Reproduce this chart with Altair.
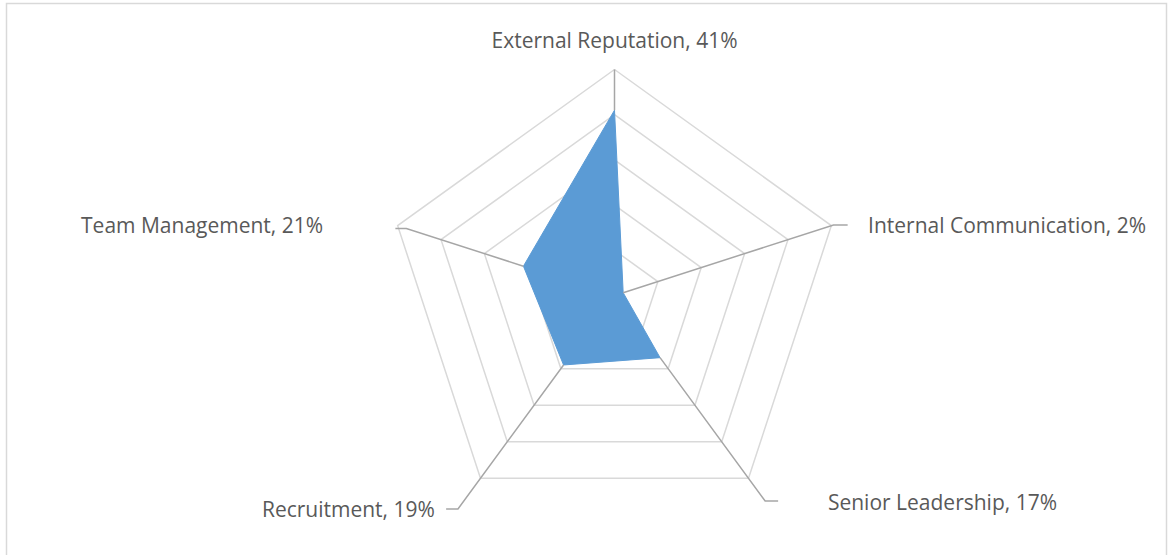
import altair as alt
import numpy as np
import pandas as pd

# ---- data ----
categories = ["External Reputation", "Internal Communication", "Senior Leadership",
              "Recruitment", "Team Management"]
values = [41, 2, 17, 19, 21]
ring_levels = [10, 20, 30, 40, 50]

# ---- layout (data units) ----
leader_radius = [50, 50.5, 56.2, 58.4, 48]
hook_dx = [0, 3.1, 2.85, -2.6, -2.4]
label_x = [0, 55.6, 46.8, -39.4, -63.9]
label_y = [54.8, 13.8, -47.5, -49.0, 13.8]
label_align = ["center", "left", "left", "right", "right"]

n = len(categories)
angles = [np.pi / 2 - 2 * np.pi * i / n for i in range(n)]

# rings
ring_rows = []
for lv in ring_levels:
    for k in range(n + 1):
        a = angles[k % n]
        ring_rows.append({"level": lv, "k": k, "x": lv * np.cos(a), "y": lv * np.sin(a)})
rings = pd.DataFrame(ring_rows)

# filled series polygon
poly_rows = []
for k in range(n + 1):
    i = k % n
    poly_rows.append({"k": k, "x": values[i] * np.cos(angles[i]), "y": values[i] * np.sin(angles[i])})
poly = pd.DataFrame(poly_rows)

# leader lines
lead_rows = []
for i in range(n):
    a = angles[i]
    px, py = values[i] * np.cos(a), values[i] * np.sin(a)
    cx, cy = leader_radius[i] * np.cos(a), leader_radius[i] * np.sin(a)
    lead_rows.append({"cat": categories[i], "k": 0, "x": px, "y": py})
    lead_rows.append({"cat": categories[i], "k": 1, "x": cx, "y": cy})
    if hook_dx[i] != 0:
        lead_rows.append({"cat": categories[i], "k": 2, "x": cx + hook_dx[i], "y": cy})
leads = pd.DataFrame(lead_rows)

labels = pd.DataFrame({
    "text": [f"{c}, {v}%" for c, v in zip(categories, values)],
    "x": label_x, "y": label_y, "align": label_align,
})

xs = alt.Scale(domain=[-50, 50], range=[614.5 - 228, 614.5 + 228])
ys = alt.Scale(domain=[-50, 50], range=[295.5 + 226, 295.5 - 226])
X = lambda: alt.X("x:Q", scale=xs, axis=None)
Y = lambda: alt.Y("y:Q", scale=ys, axis=None)

ring_layer = alt.Chart(rings).mark_line(color="#d9d9d9", strokeWidth=1.5).encode(
    x=X(), y=Y(), detail="level:N", order="k:Q")

fill_layer = alt.Chart(poly).mark_line(fill="#5b9bd5", stroke="#5b9bd5", strokeWidth=1,
                                       fillOpacity=1).encode(
    x=X(), y=Y(), order="k:Q")

lead_layer = alt.Chart(leads).mark_line(color="#a6a6a6", strokeWidth=1.5).encode(
    x=X(), y=Y(), detail="cat:N", order="k:Q")

text_layers = []
for al in ["center", "left", "right"]:
    sub = labels[labels["align"] == al]
    text_layers.append(
        alt.Chart(sub).mark_text(align=al, baseline="alphabetic", font="Open Sans", fontSize=21,
                                 color="#595959").encode(x=X(), y=Y(), text="text:N"))

border = alt.Chart(pd.DataFrame({"a": [0]})).mark_rect(
    fill=None, stroke="#d9d9d9", strokeWidth=1.5).encode(
    x=alt.value(6.5), x2=alt.value(1166.5), y=alt.value(3.5), y2=alt.value(600))

chart = alt.layer(border, ring_layer, fill_layer, lead_layer, *text_layers).properties(
    width=1171, height=555, autosize="none", padding=0,
    background="white").configure_view(stroke=None)

chart.save("out.html", embed_options={"renderer": "svg", "actions": False})
